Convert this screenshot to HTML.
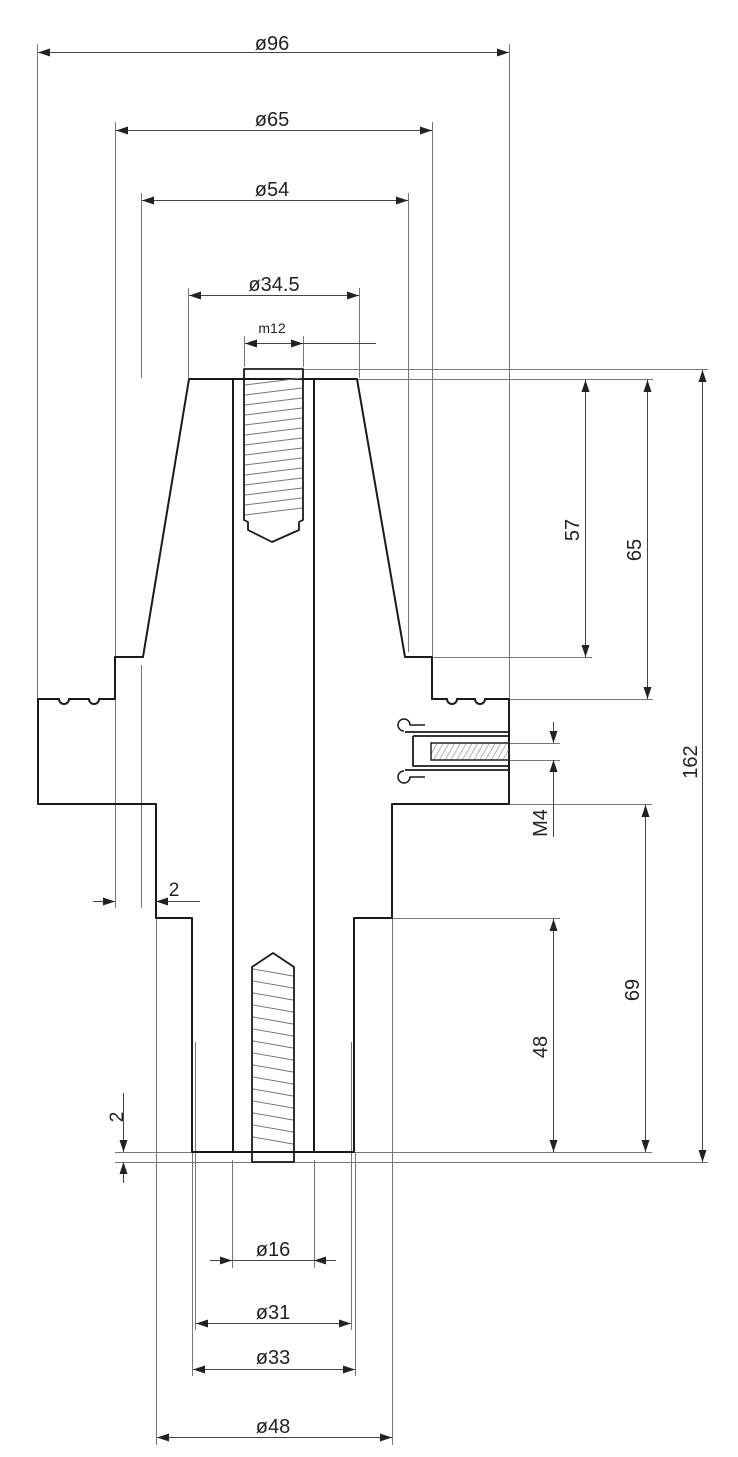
<!DOCTYPE html>
<html><head><meta charset="utf-8"><style>
html,body{margin:0;padding:0;background:#fff}
svg{display:block}
text{font-family:"Liberation Sans",sans-serif;fill:#222}
</style></head><body>
<svg width="738" height="1457" viewBox="0 0 738 1457" xmlns="http://www.w3.org/2000/svg">
<defs>
<marker id="a" viewBox="0 0 12 8" refX="12" refY="4" markerWidth="12" markerHeight="8" markerUnits="userSpaceOnUse" orient="auto-start-reverse">
<path d="M0,0 L12,4 L0,8 Z" fill="#222"/></marker>
<pattern id="h" width="5" height="5" patternUnits="userSpaceOnUse" patternTransform="rotate(30)">
<line x1="0" y1="0" x2="0" y2="5" stroke="#999" stroke-width="1.5"/></pattern>
</defs>
<g stroke="#777" stroke-width="1" fill="none">
<line x1="37.5" y1="44" x2="37.5" y2="699"/>
<line x1="509.5" y1="44" x2="509.5" y2="699"/>
<line x1="115.5" y1="122" x2="115.5" y2="908"/>
<line x1="432.5" y1="122" x2="432.5" y2="657"/>
<line x1="141.5" y1="193" x2="141.5" y2="378"/>
<line x1="141.5" y1="665" x2="141.5" y2="908"/>
<line x1="408.5" y1="193" x2="408.5" y2="652"/>
<line x1="188.5" y1="288" x2="188.5" y2="378"/>
<line x1="359.5" y1="288" x2="359.5" y2="378"/>
<line x1="244.5" y1="336" x2="244.5" y2="367"/>
<line x1="303.5" y1="336" x2="303.5" y2="367"/>
<line x1="303" y1="369.5" x2="708" y2="369.5"/>
<line x1="357" y1="379.5" x2="653" y2="379.5"/>
<line x1="432" y1="657.5" x2="592" y2="657.5"/>
<line x1="509" y1="699.5" x2="653" y2="699.5"/>
<line x1="509" y1="743.5" x2="560" y2="743.5"/>
<line x1="509" y1="760.5" x2="560" y2="760.5"/>
<line x1="392" y1="804.5" x2="652" y2="804.5"/>
<line x1="392" y1="918.5" x2="560" y2="918.5"/>
<line x1="115" y1="1152.5" x2="652" y2="1152.5"/>
<line x1="115" y1="1162.5" x2="708" y2="1162.5"/>
<line x1="232.5" y1="1160" x2="232.5" y2="1268"/>
<line x1="314.5" y1="1160" x2="314.5" y2="1268"/>
<line x1="195.5" y1="1042" x2="195.5" y2="1330"/>
<line x1="351.5" y1="1042" x2="351.5" y2="1330"/>
<line x1="192.5" y1="1152" x2="192.5" y2="1376"/>
<line x1="355.5" y1="1152" x2="355.5" y2="1376"/>
<line x1="156.5" y1="918" x2="156.5" y2="1445"/>
<line x1="392.5" y1="918" x2="392.5" y2="1445"/>
</g>
<g stroke="#444" stroke-width="1" fill="none">
<line x1="38" y1="52.5" x2="509" y2="52.5" marker-start="url(#a)" marker-end="url(#a)"/>
<line x1="116" y1="130.5" x2="432" y2="130.5" marker-start="url(#a)" marker-end="url(#a)"/>
<line x1="142" y1="200.5" x2="408" y2="200.5" marker-start="url(#a)" marker-end="url(#a)"/>
<line x1="189" y1="295.5" x2="359" y2="295.5" marker-start="url(#a)" marker-end="url(#a)"/>
<line x1="245" y1="343.5" x2="303" y2="343.5" marker-start="url(#a)" marker-end="url(#a)"/>
<line x1="303" y1="343.5" x2="376" y2="343.5"/>
<line x1="585.5" y1="380" x2="585.5" y2="657" marker-start="url(#a)" marker-end="url(#a)"/>
<line x1="647.5" y1="380" x2="647.5" y2="699" marker-start="url(#a)" marker-end="url(#a)"/>
<line x1="702.5" y1="370" x2="702.5" y2="1162" marker-start="url(#a)" marker-end="url(#a)"/>
<line x1="645.5" y1="805" x2="645.5" y2="1152" marker-start="url(#a)" marker-end="url(#a)"/>
<line x1="553.5" y1="919" x2="553.5" y2="1152" marker-start="url(#a)" marker-end="url(#a)"/>
<line x1="553.5" y1="722" x2="553.5" y2="743" marker-end="url(#a)"/>
<line x1="553.5" y1="837" x2="553.5" y2="760" marker-end="url(#a)"/>
<line x1="93" y1="901.5" x2="115" y2="901.5" marker-end="url(#a)"/>
<line x1="200" y1="901.5" x2="156" y2="901.5" marker-end="url(#a)"/>
<line x1="123.5" y1="1093" x2="123.5" y2="1152" marker-end="url(#a)"/>
<line x1="123.5" y1="1183" x2="123.5" y2="1162" marker-end="url(#a)"/>
<line x1="210" y1="1260.5" x2="232" y2="1260.5" marker-end="url(#a)"/>
<line x1="336" y1="1260.5" x2="314" y2="1260.5" marker-end="url(#a)"/>
<line x1="232" y1="1260.5" x2="314" y2="1260.5"/>
<line x1="196" y1="1323.5" x2="351" y2="1323.5" marker-start="url(#a)" marker-end="url(#a)"/>
<line x1="193" y1="1369.5" x2="355" y2="1369.5" marker-start="url(#a)" marker-end="url(#a)"/>
<line x1="157" y1="1437.5" x2="392" y2="1437.5" marker-start="url(#a)" marker-end="url(#a)"/>
</g>
<g stroke="#1a1a1a" stroke-width="2" fill="none" stroke-linejoin="round">
<path d="M189,379 L357,379 L405,657 L432,657 L432,699 L447,699 A5,5 0 0 0 457,699 L475,699 A5,5 0 0 0 485,699 L509,699 L509,804 L392,804 L392,918 L354,918 L354,1152 L192,1152 L192,918 L156,918 L156,804 L38,804 L38,699 L59,699 A5,5 0 0 0 69,699 L89,699 A5,5 0 0 0 99,699 L115,699 L115,657 L143,657 Z"/>
<line x1="233" y1="379" x2="233" y2="1152"/>
<line x1="314" y1="379" x2="314" y2="1152"/>
<path d="M244,520 L244,369 L303,369 L303,520 L299,522 L299,530 L272,542 L248,530 L248,522 Z" stroke-width="1.8"/>
<path d="M252,1162 L252,967 L273,953 L294,967 L294,1162 Z" stroke-width="1.8"/>
<path d="M405,732 L509,732 M413,736 L509,736 M413,736 L413,766 L509,766 M405,770 L509,770" stroke-width="1.8"/>
<path d="M425,725 L410,725 A6,6 0 1 0 404,731" stroke-width="1.5"/>
<path d="M425,777 L410,777 A6,6 0 1 1 404,771" stroke-width="1.5"/>
</g>
<rect x="431" y="743" width="78" height="17" fill="url(#h)" stroke="#222" stroke-width="1.5"/>
<g stroke="#777" stroke-width="1">
<line x1="245" y1="385" x2="302" y2="378"/><line x1="245" y1="395" x2="302" y2="388"/>
<line x1="245" y1="405" x2="302" y2="398"/><line x1="245" y1="415" x2="302" y2="408"/>
<line x1="245" y1="425" x2="302" y2="418"/><line x1="245" y1="435" x2="302" y2="428"/>
<line x1="245" y1="445" x2="302" y2="438"/><line x1="245" y1="455" x2="302" y2="448"/>
<line x1="245" y1="465" x2="302" y2="458"/><line x1="245" y1="475" x2="302" y2="468"/>
<line x1="245" y1="485" x2="302" y2="478"/><line x1="245" y1="495" x2="302" y2="488"/>
<line x1="245" y1="505" x2="302" y2="498"/><line x1="245" y1="515" x2="302" y2="508"/>
<line x1="253" y1="969" x2="293" y2="976"/><line x1="253" y1="981" x2="293" y2="988"/>
<line x1="253" y1="993" x2="293" y2="1000"/><line x1="253" y1="1005" x2="293" y2="1012"/>
<line x1="253" y1="1017" x2="293" y2="1024"/><line x1="253" y1="1029" x2="293" y2="1036"/>
<line x1="253" y1="1041" x2="293" y2="1048"/><line x1="253" y1="1053" x2="293" y2="1060"/>
<line x1="253" y1="1065" x2="293" y2="1072"/><line x1="253" y1="1077" x2="293" y2="1084"/>
<line x1="253" y1="1089" x2="293" y2="1096"/><line x1="253" y1="1101" x2="293" y2="1108"/>
<line x1="253" y1="1113" x2="293" y2="1120"/><line x1="253" y1="1125" x2="293" y2="1132"/>
<line x1="253" y1="1137" x2="293" y2="1144"/>
</g>
<g font-size="20" text-anchor="middle">
<text x="272" y="50">ø96</text>
<text x="272" y="126">ø65</text>
<text x="272" y="196">ø54</text>
<text x="274" y="291">ø34.5</text>
<text x="272" y="333" font-size="14">m12</text>
<text x="174" y="896" font-size="19">2</text>
<text x="273" y="1256">ø16</text>
<text x="273" y="1319">ø31</text>
<text x="273" y="1364">ø33</text>
<text x="273" y="1433">ø48</text>
<text transform="translate(579,530) rotate(-90)">57</text>
<text transform="translate(641,550) rotate(-90)">65</text>
<text transform="translate(697,762) rotate(-90)">162</text>
<text transform="translate(639,990) rotate(-90)">69</text>
<text transform="translate(547,1047) rotate(-90)">48</text>
<text transform="translate(547,823) rotate(-90)">M4</text>
<text transform="translate(123,1117) rotate(-90)" font-size="19">2</text>
</g>
</svg>
</body></html>
